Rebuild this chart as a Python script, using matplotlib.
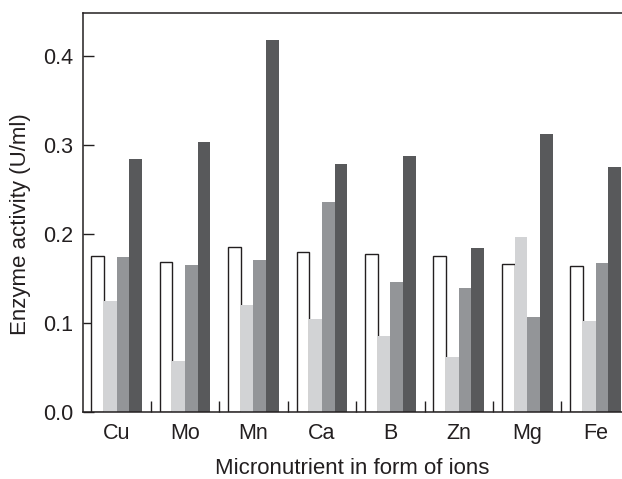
import matplotlib
matplotlib.use("Agg")
import matplotlib.pyplot as plt
import numpy as np

plt.rcParams['font.family'] = ['Liberation Sans', 'DejaVu Sans']

categories = ["Cu", "Mo", "Mn", "Ca", "B", "Zn", "Mg", "Fe"]
series1 = [0.175, 0.168, 0.185, 0.180, 0.1775, 0.1756, 0.166, 0.164]
series2 = [0.125, 0.057, 0.120, 0.1045, 0.0854, 0.0618, 0.197, 0.102]
series3 = [0.1745, 0.165, 0.171, 0.236, 0.146, 0.139, 0.107, 0.167]
series4 = [0.284, 0.303, 0.418, 0.279, 0.288, 0.184, 0.312, 0.275]
yticks = [0.0, 0.1, 0.2, 0.3, 0.4]

W, H = 622, 479
fig = plt.figure(figsize=(W / 100, H / 100), dpi=100)
ax = fig.add_axes([83 / W, (H - 412) / H, (W - 83) / W, (412 - 13) / H])

x = np.arange(len(categories))
w = 0.185
styles = [
    dict(color="white", edgecolor="#231f20", linewidth=1.0),
    dict(color="#d2d3d5", edgecolor="none"),
    dict(color="#939598", edgecolor="none"),
    dict(color="#58595b", edgecolor="none"),
]
for k, (vals, st) in enumerate(zip([series1, series2, series3, series4], styles)):
    ax.bar(x + (k - 1.5) * w, vals, width=w, zorder=2, **st)

ax.set_xlim(-0.491, 7.385)
ax.set_ylim(0, 0.448)
ax.set_yticks(yticks)
ax.set_yticklabels([f"{v:.1f}" for v in yticks])
ax.set_xticks(x)
ax.set_xticklabels(categories)
ax.set_xticks(np.arange(0.5, 7.0, 1.0), minor=True)
ax.tick_params(axis="x", which="major", length=0, labelsize=15.5, pad=8, colors="#231f20")
ax.tick_params(axis="x", which="minor", direction="in", length=8, width=1, color="#231f20")
ax.tick_params(axis="y", which="major", direction="in", length=8, width=1, labelsize=15.5, pad=7, colors="#231f20")
ax.spines["right"].set_visible(False)
for s in ["left", "top", "bottom"]:
    ax.spines[s].set_linewidth(1.1)
    ax.spines[s].set_color("#231f20")

ax.set_ylabel("Enzyme activity (U/ml)", fontsize=16, color="#231f20")
ax.yaxis.set_label_coords(-0.097, 0.47)
ax.set_xlabel("Micronutrient in form of ions", fontsize=16, color="#231f20", labelpad=10)

fig.savefig("out.png", dpi=100)
